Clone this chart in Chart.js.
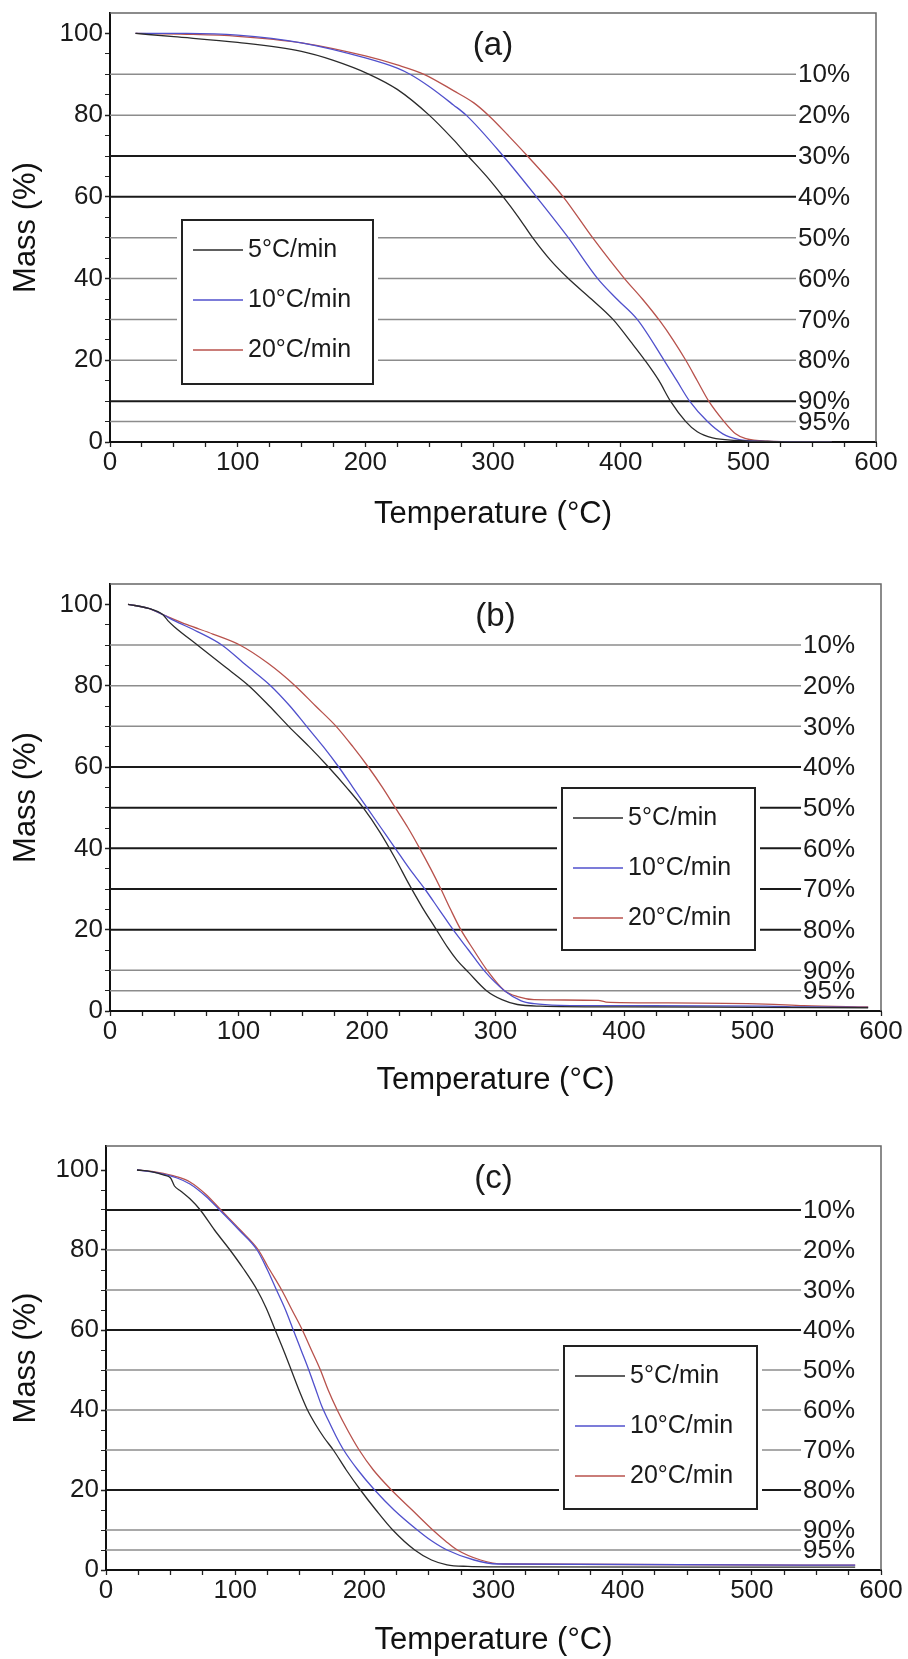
<!DOCTYPE html>
<html>
<head>
<meta charset="utf-8">
<script src="https://cdn.jsdelivr.net/npm/chart.js@4"></script>
<style>
  html, body { margin: 0; padding: 0; background: #fff; overflow: hidden; }
  body { width: 908px; height: 1659px; position: relative; }
  .panel { position: absolute; left: 0; width: 908px; }
</style>
</head>
<body>
<div class="panel" style="top:0;height:560px"><canvas id="chart-a"></canvas></div>
<div class="panel" style="top:545px;height:560px"><canvas id="chart-b"></canvas></div>
<div class="panel" style="top:1090px;height:569px"><canvas id="chart-c"></canvas></div>
<script>
// conversion levels (mass loss %) drawn as reference lines
const conversionLevels = [10, 20, 30, 40, 50, 60, 70, 80, 90, 95];
const rateLabels = ['5°C/min', '10°C/min', '20°C/min'];
const xLabelTicks = [0, 100, 200, 300, 400, 500, 600];
const yLabelTicks = [0, 20, 40, 60, 80, 100];

// (a)
const tA5 = [20, 50, 100, 150, 175, 203, 225, 250, 269, 279, 295, 308, 320, 331, 345, 359, 377, 394, 408, 419, 430, 439, 451, 460, 472, 490, 520, 565];
const mA5 = [100, 99.2, 97.8, 95.6, 93.4, 90, 86.3, 80, 74, 70.5, 65, 60, 55, 50, 44.5, 40, 35, 30, 24.5, 20, 15, 10, 5, 2.5, 1, 0.4, 0.1, 0];
const tA10 = [20, 60, 100, 150, 200, 225, 235, 250, 269, 279, 308, 334, 359, 382, 397, 413, 434, 444, 454, 468, 480, 493, 510, 565];
const mA10 = [100, 100, 99.6, 97.7, 94, 91.5, 90, 87, 82.5, 80, 70, 60, 50, 40, 35, 30, 20, 15, 10, 5, 2, 0.6, 0.2, 0];
const tA20 = [20, 60, 100, 150, 200, 225, 246, 269, 285, 298, 312, 327, 355, 378, 403, 417, 431, 441, 451, 460, 469, 481, 490, 498, 515, 565];
const mA20 = [100, 99.8, 99.3, 97.7, 94.5, 92.3, 90, 86, 83, 79.5, 75, 70, 60, 50, 40, 35, 29.5, 25, 20, 15, 10, 5, 2, 0.8, 0.2, 0];

// (b)
const tB5 = [14, 30, 41, 45, 50, 68, 88, 108, 124, 139, 155, 170, 184, 197, 210, 222, 233, 243, 253, 263, 270, 279, 293, 305, 317, 335, 400, 500, 590];
const mB5 = [100, 99, 97.5, 96, 94.5, 90, 85, 80, 75, 70, 65, 60, 55, 50, 44, 37.5, 31, 25.5, 20.5, 15.5, 12.5, 9.5, 5, 2.8, 1.6, 1.2, 1.0, 0.9, 0.8];
const tB10 = [14, 30, 41, 50, 68, 87, 106, 125, 140, 153, 166, 178, 189, 200, 211, 222, 233, 245, 256, 267, 279, 291, 307, 320, 330, 350, 400, 510, 540, 590];
const mB10 = [100, 99, 97.5, 96, 93.3, 90, 85, 80, 75, 70, 65, 60, 55, 50, 45, 40, 35, 30, 25, 20, 15, 10, 5, 2.5, 1.8, 1.4, 1.3, 1.2, 1.0, 0.9];
const tB20 = [14, 30, 41, 60, 80, 101, 123, 144, 160, 176, 189, 201, 212, 222, 232, 241, 249.5, 257.5, 265, 273, 283, 293.5, 307, 318, 330, 380, 386, 430, 510, 540, 590];
const mB20 = [100, 99, 97.5, 95, 92.7, 90, 85.5, 80, 75, 70, 65, 60, 55, 50, 45, 40, 35, 30, 25, 20, 15, 10, 5, 3.5, 2.8, 2.6, 2.2, 2.0, 1.7, 1.3, 1.0];

// (c)
const tC5 = [24, 35, 45, 50, 53, 58, 65, 73, 84, 96, 106, 117, 124, 131, 138, 144, 150, 156, 162, 169, 176, 186, 197, 209, 222, 239, 252, 264, 280, 300, 580];
const mC5 = [100, 99.6, 98.7, 98, 96, 94.7, 92.8, 90, 85, 80, 75.5, 70, 65.5, 60, 54.5, 49.5, 44.5, 40, 36.5, 33, 30, 25, 20, 15, 10, 5, 2.5, 1.3, 0.9, 0.8, 0.7];
const tC10 = [24, 40, 55, 65, 77, 88, 103, 117, 125, 132, 139, 145, 151, 157, 162, 167, 172, 178, 184, 195, 208, 223, 241, 252, 264, 285, 303, 580];
const mC10 = [100, 99.3, 98, 96.5, 93.5, 90, 85, 80, 75, 70, 65, 60, 55, 50, 45.5, 41, 37.5, 33.5, 30, 25, 20, 15, 10, 7.3, 5, 2.5, 1.5, 1.2];
const tC20 = [24, 40, 55, 65, 77, 89, 104, 118, 125, 136, 144, 152, 159, 166, 172, 179, 187, 196, 207, 221, 237, 253, 263, 272, 290, 308, 580];
const mC20 = [100, 99.4, 98.3, 97, 94, 90, 85, 80, 76, 70, 65, 60, 55, 50, 45, 40, 35, 30, 25, 20, 15, 10, 7.2, 5, 2.5, 1.5, 1.2];

const FONT = "'Liberation Sans', Arial, sans-serif";
const rateColors = ['#2b2b2b', '#5050cc', '#b8524c'];
Chart.defaults.font.family = FONT;
Chart.defaults.color = '#1a1a1a';

// minor tick positions
const xTickValues = [];
for (let v = 0; v <= 600; v += 25) xTickValues.push(v);
const yTickValues = [];
for (let v = 0; v <= 100; v += 5) yTickValues.push(v);

const tgaDecor = {
  id: 'tgaDecor',
  beforeDatasetsDraw(chart, args, opts) {
    const {ctx, chartArea: a, scales: {y}} = chart;
    ctx.save();
    // top + right edge of the frame
    ctx.strokeStyle = '#666';
    ctx.lineWidth = 1.5;
    ctx.beginPath();
    ctx.moveTo(a.left, a.top);
    ctx.lineTo(a.right, a.top);
    ctx.lineTo(a.right, a.bottom);
    ctx.stroke();

    ctx.font = '26px ' + FONT;
    ctx.textBaseline = 'middle';
    ctx.textAlign = 'left';
    conversionLevels.forEach(c => {
      const py = y.getPixelForValue(100 - c);
      const dark = opts.darkLevels.includes(c);
      ctx.strokeStyle = dark ? '#1a1a1a' : '#8c8c8c';
      ctx.lineWidth = dark ? 2 : 1.5;
      ctx.beginPath();
      ctx.moveTo(a.left, py);
      ctx.lineTo(a.right - 80, py);
      ctx.stroke();
      ctx.fillStyle = '#1a1a1a';
      ctx.fillText(c + '%', a.right - 78, py + 1);
    });

    ctx.font = '33px ' + FONT;
    ctx.textAlign = 'center';
    ctx.fillText(opts.tag, (a.left + a.right) / 2, a.top + 33);
    ctx.restore();
  },
  afterDatasetsDraw(chart, args, opts) {
    const {ctx, chartArea: a} = chart;
    const b = opts.legendBox;
    const x0 = a.left + b.left, y0 = a.top + b.top;
    ctx.save();
    ctx.fillStyle = '#fff';
    ctx.fillRect(x0 - 5, y0 - 5, b.width + 10, b.height + 10);
    ctx.strokeStyle = '#222';
    ctx.lineWidth = 2;
    ctx.strokeRect(x0, y0, b.width, b.height);
    ctx.font = '25px ' + FONT;
    ctx.textBaseline = 'middle';
    ctx.textAlign = 'left';
    chart.data.datasets.forEach((ds, i) => {
      const py = y0 + 30 + i * 50;
      ctx.strokeStyle = ds.borderColor;
      ctx.lineWidth = 1.5;
      ctx.beginPath();
      ctx.moveTo(x0 + 11, py);
      ctx.lineTo(x0 + 61, py);
      ctx.stroke();
      ctx.fillStyle = '#1a1a1a';
      ctx.fillText(ds.label, x0 + 66, py);
    });
    ctx.restore();
  }
};

const panels = [
  {id: 'chart-a', tag: '(a)', height: 560, left: 110, right: 876, top: 13, bottom: 442, xHeight: 91, yMax: 105,
   series: [[tA5, mA5], [tA10, mA10], [tA20, mA20]], darkLevels: [30, 40, 90],
   legendBox: {left: 72, top: 207, width: 191, height: 164}},
  {id: 'chart-b', tag: '(b)', height: 560, left: 110, right: 881, top: 39, bottom: 466, xHeight: 88, yMax: 105,
   series: [[tB5, mB5], [tB10, mB10], [tB20, mB20]], darkLevels: [40, 50, 60, 70, 80],
   legendBox: {left: 452, top: 204, width: 193, height: 162}},
  {id: 'chart-c', tag: '(c)', height: 569, left: 106, right: 881, top: 56, bottom: 480, xHeight: 89, yMax: 106,
   series: [[tC5, mC5], [tC10, mC10], [tC20, mC20]], darkLevels: [10, 40, 80],
   legendBox: {left: 458, top: 200, width: 193, height: 163}}
];

function toPoints(temps, masses) {
  return temps.map((t, i) => ({x: t, y: masses[i]}));
}

panels.forEach(p => {
  const datasets = p.series.map((s, i) => ({
    label: rateLabels[i],
    data: toPoints(s[0], s[1]),
    borderColor: rateColors[i],
    borderWidth: 1.3,
    pointRadius: 0,
    cubicInterpolationMode: 'monotone',
    fill: false
  }));

  new Chart(document.getElementById(p.id), {
    type: 'line',
    data: {datasets},
    options: {
      responsive: true,
      maintainAspectRatio: false,
      animation: false,
      events: [],
      layout: {
        padding: {left: 0, right: 908 - p.right, top: p.top, bottom: p.height - p.bottom - p.xHeight}
      },
      plugins: {
        legend: {display: false},
        tooltip: {enabled: false},
        tgaDecor: {tag: p.tag, darkLevels: p.darkLevels, legendBox: p.legendBox}
      },
      scales: {
        x: {
          type: 'linear',
          min: 0,
          max: 600,
          afterBuildTicks: s => { s.ticks = xTickValues.map(v => ({value: v})); },
          afterFit: s => { s.height = p.xHeight; s.paddingLeft = 0; s.paddingRight = 0; },
          ticks: {
            autoSkip: false,
            maxRotation: 0,
            padding: 0,
            font: {size: 26},
            callback: v => xLabelTicks.includes(v) ? String(v) : ''
          },
          grid: {drawOnChartArea: false, tickLength: 5, tickColor: '#222', tickWidth: 1.3},
          border: {color: '#111', width: 2},
          title: {display: true, text: 'Temperature (°C)', font: {size: 31}, color: '#111', padding: 0}
        },
        y: {
          type: 'linear',
          min: 0,
          max: p.yMax,
          afterBuildTicks: s => { s.ticks = yTickValues.map(v => ({value: v})); },
          afterFit: s => { s.width = p.left; s.paddingTop = 0; s.paddingBottom = 0; },
          ticks: {
            autoSkip: false,
            padding: 2,
            font: {size: 26},
            callback: v => yLabelTicks.includes(v) ? String(v) : ''
          },
          grid: {
            drawOnChartArea: false,
            tickLength: 5,
            tickColor: '#222',
            tickWidth: c => (c.tick && yLabelTicks.includes(c.tick.value)) ? 1.5 : 1
          },
          border: {color: '#111', width: 2},
          title: {display: true, text: 'Mass (%)', font: {size: 31}, color: '#111', padding: {top: 8, bottom: 0}}
        }
      }
    },
    plugins: [tgaDecor]
  });
});
</script>
</body>
</html>
